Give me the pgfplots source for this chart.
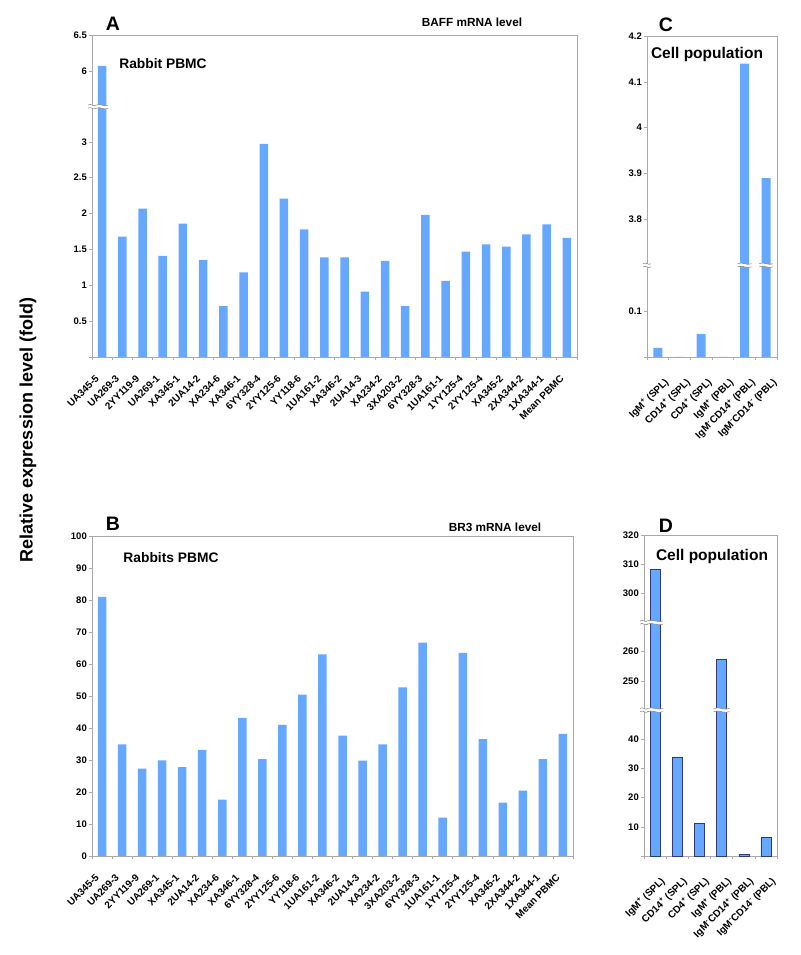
\documentclass[border=0pt]{standalone}
\usepackage{fontspec}
\setmainfont{Liberation Sans}
\usepackage{pgfplots}
\pgfplotsset{compat=1.18}

\definecolor{barblue}{RGB}{102,168,255}
\definecolor{frame}{RGB}{170,170,170}
\definecolor{edge}{RGB}{45,60,120}

\newcommand{\tf}{\bfseries\fontsize{9.5}{11}\selectfont}
\newcommand{\xf}{\bfseries\fontsize{10}{12}\selectfont}

% broken-axis mark: x, y in axis units, half width
\newcommand{\brk}[3]{%
  \begin{scope}[shift={(axis cs:#1,#2)}]
    \fill[white] (-#3,1.6pt) .. controls (-0.3*#3,4pt) and (0.3*#3,-0.8pt) .. (#3,1.6pt)
      -- (#3,-1.6pt) .. controls (0.3*#3,-4pt) and (-0.3*#3,0.8pt) .. (-#3,-1.6pt) -- cycle;
    \draw[gray, line width=0.5pt] (-#3,1.6pt) .. controls (-0.3*#3,4pt) and (0.3*#3,-0.8pt) .. (#3,1.6pt);
    \draw[gray, line width=0.5pt] (-#3,-1.6pt) .. controls (-0.3*#3,0.8pt) and (0.3*#3,-4pt) .. (#3,-1.6pt);
  \end{scope}}

\pgfplotsset{
  panel/.style={
    scale only axis, ybar, clip=false,
    axis line style={frame, line width=0.6pt},
    tick align=outside, ytick pos=left, xtick pos=bottom,
    major tick length=3pt, minor tick length=3pt,
    tick style={frame, line width=0.6pt},
    major x tick style={draw=none},
    yticklabel style={font=\tf, inner sep=2pt},
    /pgf/number format/assume math mode=true,
    enlargelimits=false,
  },
}

\begin{document}
\begin{tikzpicture}
\useasboundingbox (0,0) rectangle (800pt,955pt);

% ---------- A: BAFF, rabbit PBMC ----------
\begin{axis}[panel,
  at={(92pt,598pt)}, anchor=south west,
  width=485pt, height=322pt, bar width=8.5pt,
  xmin=-0.5, xmax=23.5,
  xtick={0,...,23},
  minor xtick={-0.5,0.5,...,23.5},
  xticklabel style={font=\xf, xshift=-4pt, yshift=-16pt, rotate=45, anchor=east, inner sep=1pt},
  xticklabels={UA345-5,UA269-3,2YY119-9,UA269-1,XA345-1,2UA14-2,XA234-6,XA346-1,6YY328-4,2YY125-6,YY118-6,1UA161-2,XA346-2,2UA14-3,XA234-2,3XA203-2,6YY328-3,1UA161-1,1YY125-4,2YY125-4,XA345-2,2XA344-2,1XA344-1,Mean PBMC},
  y coord trafo/.code={\pgfmathparse{#1>4.5 ? #1-2.01 : #1}},
  ymin=0, ymax=6.5,
  ytick={0,0.5,1,1.5,2,2.5,3,6,6.5},
  yticklabels={,0.5,1,1.5,2,2.5,3,6,6.5},
]
\addplot[fill=barblue, draw=none] coordinates {
(0,6.07) (1,1.68) (2,2.07) (3,1.41) (4,1.86) (5,1.35) (6,0.71) (7,1.18)
(8,2.97) (9,2.21) (10,1.78) (11,1.39) (12,1.39) (13,0.91) (14,1.34) (15,0.71)
(16,1.98) (17,1.06) (18,1.47) (19,1.57) (20,1.54) (21,1.71) (22,1.85) (23,1.66)};
\brk{-0.5}{3.49}{4pt}
\brk{0}{3.49}{6pt}
\end{axis}

% ---------- B: BR3, rabbit PBMC ----------
\begin{axis}[panel,
  at={(92pt,99pt)}, anchor=south west,
  width=481pt, height=320pt, bar width=8.5pt,
  xmin=-0.5, xmax=23.5,
  xtick={0,...,23},
  minor xtick={-0.5,0.5,...,23.5},
  xticklabel style={font=\xf, xshift=-4pt, yshift=-16pt, rotate=45, anchor=east, inner sep=1pt},
  xticklabels={UA345-5,UA269-3,2YY119-9,UA269-1,XA345-1,2UA14-2,XA234-6,XA346-1,6YY328-4,2YY125-6,YY118-6,1UA161-2,XA346-2,2UA14-3,XA234-2,3XA203-2,6YY328-3,1UA161-1,1YY125-4,2YY125-4,XA345-2,2XA344-2,1XA344-1,Mean PBMC},
  ymin=0, ymax=100, ytick={0,10,...,100},
]
\addplot[fill=barblue, draw=none] coordinates {
(0,81.0) (1,34.9) (2,27.3) (3,29.9) (4,27.8) (5,33.2) (6,17.6) (7,43.2)
(8,30.3) (9,41.0) (10,50.4) (11,63.0) (12,37.6) (13,29.8) (14,34.9) (15,52.7)
(16,66.7) (17,12.0) (18,63.5) (19,36.5) (20,16.7) (21,20.4) (22,30.3) (23,38.2)};
\end{axis}

% ---------- C: BAFF, cell populations ----------
\begin{axis}[panel,
  at={(647pt,598pt)}, anchor=south west,
  width=130pt, height=321pt, bar width=9pt,
  xmin=-0.5, xmax=5.5,
  xtick={0,...,5},
  minor xtick={-0.5,0.5,...,5.5},
  xticklabel style={font=\xf, xshift=10pt, yshift=-20pt, rotate=45, anchor=east, inner sep=1pt},
  xticklabels={{IgM\textsuperscript{+} (SPL)},{CD14\textsuperscript{+} (SPL)},{CD4\textsuperscript{+} (SPL)},{IgM\textsuperscript{+} (PBL)},{IgM\textsuperscript{-}CD14\textsuperscript{+} (PBL)},{IgM\textsuperscript{-}CD14\textsuperscript{-} (PBL)}},
  y coord trafo/.code={\pgfmathparse{#1>1 ? #1-3.5 : #1}},
  ymin=0, ymax=4.2,
  ytick={0,0.1,3.8,3.9,4,4.1,4.2},
  yticklabels={,0.1,3.8,3.9,4,4.1,4.2},
]
\addplot[fill=barblue, draw=none] coordinates {
(0,0.02) (1,0) (2,0.05) (3,0) (4,4.14) (5,3.89)};
\brk{-0.5}{0.2}{4pt}
\brk{4}{0.2}{7pt}
\brk{5}{0.2}{7pt}
\end{axis}

% ---------- D: BR3, cell populations ----------
\begin{axis}[panel,
  at={(644pt,99pt)}, anchor=south west,
  width=133pt, height=321pt, bar width=10pt,
  xmin=-0.5, xmax=5.5,
  xtick={0,...,5},
  minor xtick={-0.5,0.5,...,5.5},
  xticklabel style={font=\xf, xshift=9pt, yshift=-20pt, rotate=45, anchor=east, inner sep=1pt},
  xticklabels={{IgM\textsuperscript{+} (SPL)},{CD14\textsuperscript{+} (SPL)},{CD4\textsuperscript{+} (SPL)},{IgM\textsuperscript{+} (PBL)},{IgM\textsuperscript{-}CD14\textsuperscript{+} (PBL)},{IgM\textsuperscript{-}CD14\textsuperscript{-} (PBL)}},
  y coord trafo/.code={\pgfmathparse{#1>280 ? #1-210 : (#1>100 ? #1-190 : #1)}},
  ymin=0, ymax=320,
  ytick={0,10,20,30,40,250,260,300,310,320},
  yticklabels={,10,20,30,40,250,260,300,310,320},
]
\addplot[fill=barblue, draw=edge, line width=0.5pt] coordinates {
(0,308.3) (1,34.0) (2,11.1) (3,257.5) (4,0.6) (5,6.4)};
\brk{-0.5}{50}{4pt}
\brk{-0.5}{270}{4pt}
\brk{0}{50}{8pt}
\brk{0}{270}{8pt}
\brk{3}{50}{8pt}
\end{axis}

% ---------- titles and labels ----------
\node[font=\bfseries\fontsize{19.5}{22}\selectfont] at (113pt,931pt) {A};
\node[font=\bfseries\fontsize{19.5}{22}\selectfont] at (113pt,431pt) {B};
\node[font=\bfseries\fontsize{19.5}{22}\selectfont] at (666pt,930pt) {C};
\node[font=\bfseries\fontsize{19.5}{22}\selectfont] at (666pt,429pt) {D};
\node[font=\bfseries\fontsize{11.8}{14}\selectfont] at (472pt,933pt) {BAFF mRNA level};
\node[font=\bfseries\fontsize{11.8}{14}\selectfont] at (495pt,428pt) {BR3 mRNA level};
\node[font=\bfseries\fontsize{13.8}{16}\selectfont] at (163pt,891pt) {Rabbit PBMC};
\node[font=\bfseries\fontsize{13.8}{16}\selectfont] at (171pt,397pt) {Rabbits PBMC};
\node[font=\bfseries\fontsize{15.5}{18}\selectfont] at (707pt,900pt) {Cell population};
\node[font=\bfseries\fontsize{15.5}{18}\selectfont] at (712pt,399pt) {Cell population};
\node[font=\bfseries\fontsize{18}{20}\selectfont, rotate=90] at (28pt,525pt) {Relative expression level (fold)};
\end{tikzpicture}
\end{document}
